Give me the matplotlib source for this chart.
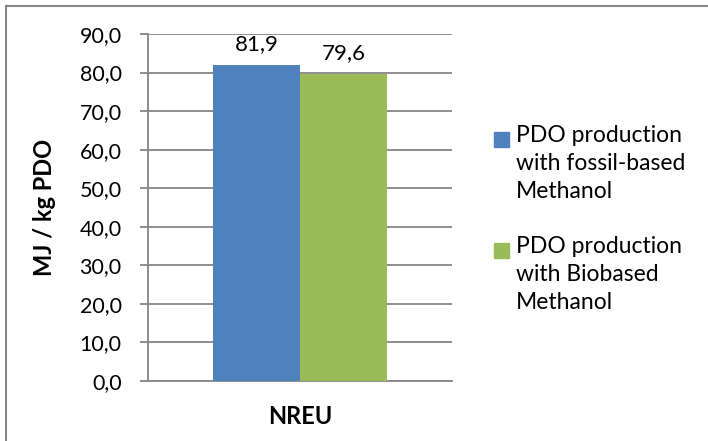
import matplotlib
matplotlib.use("Agg")
import matplotlib.pyplot as plt
from matplotlib.patches import Rectangle
from matplotlib.lines import Line2D

# Data
categories = ["NREU"]
series_names = [
    "PDO production\nwith fossil-based\nMethanol",
    "PDO production\nwith Biobased\nMethanol",
]
series_values = [[81.9], [79.6]]
series_colors = ["#4F81BD", "#9BBB59"]
y_ticks = [0, 10, 20, 30, 40, 50, 60, 70, 80, 90]
y_label = "MJ / kg PDO"

plt.rcParams["font.family"] = ["Lato", "DejaVu Sans"]

W, H = 708, 441
fig = plt.figure(figsize=(W / 100, H / 100), dpi=100)
ax = fig.add_axes([148 / W, 1 - 381 / H, (452 - 148) / W, (381 - 34) / H])

grid_c = "#868686"
bar_w = 0.285
x0 = 0
for i, (vals, col) in enumerate(zip(series_values, series_colors)):
    xpos = x0 + (i - 0.5) * bar_w
    bars = ax.bar([xpos], vals, width=bar_w, color=col, zorder=3)
    for b, v in zip(bars, vals):
        ax.annotate(f"{v:.1f}".replace(".", ","),
                    (b.get_x() + b.get_width() / 2, v),
                    xytext=(0, 8), textcoords="offset points",
                    ha="center", va="bottom", fontsize=16, color="#000000")

ax.set_xlim(-0.5, 0.5)
ax.set_ylim(0, 90)
ax.set_yticks(y_ticks)
ax.set_yticklabels([f"{t:.1f}".replace(".", ",") for t in y_ticks], fontsize=15.5)
ax.set_xticks([0])
ax.set_xticklabels(categories, fontsize=17, fontweight="bold")
ax.tick_params(axis="x", length=0, pad=17)
ax.tick_params(axis="y", length=6, width=1.3, color=grid_c, pad=13)
ax.yaxis.grid(True, color=grid_c, linewidth=1.3, zorder=0)
ax.set_axisbelow(True)
for s in ["top", "right"]:
    ax.spines[s].set_visible(False)
for s in ["left", "bottom"]:
    ax.spines[s].set_color(grid_c)
    ax.spines[s].set_linewidth(1.3)
ax.set_ylabel(y_label, fontsize=17, fontweight="bold", va="center")
ax.yaxis.set_label_coords((44 - 148) / 304, 0.5)

# Legend drawn with square markers aligned to the first line of each entry
entry_tops = [132, 243]
for name, col, top in zip(series_names, series_colors, entry_tops):
    fig.patches.append(Rectangle((494 / W, 1 - (top + 15) / H), 15 / W, 15 / H,
                                 transform=fig.transFigure, color=col))
    fig.text(516 / W, 1 - (top - 7) / H, name, ha="left", va="top",
             fontsize=16.5, linespacing=1.4)

# Chart frame (top and left edges)
fig.lines.append(Line2D([6 / W, 1], [1 - 6 / H, 1 - 6 / H], transform=fig.transFigure,
                        color=grid_c, linewidth=1.5))
fig.lines.append(Line2D([6 / W, 6 / W], [0, 1 - 6 / H], transform=fig.transFigure,
                        color=grid_c, linewidth=1.5))

fig.savefig("out.png", dpi=100)
